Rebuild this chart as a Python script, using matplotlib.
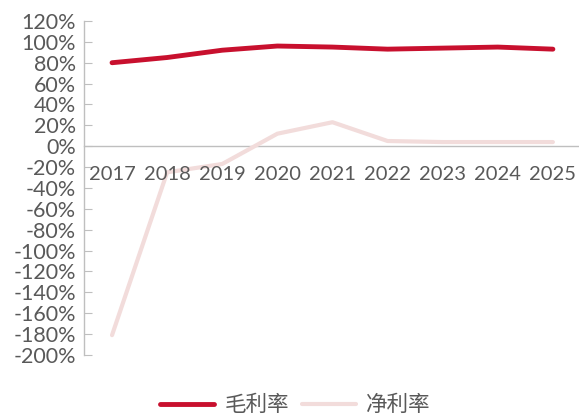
import matplotlib
matplotlib.use("Agg")
import matplotlib.pyplot as plt
from matplotlib.ticker import FuncFormatter, MultipleLocator

years = ["2017", "2018", "2019", "2020", "2021", "2022", "2023", "2024", "2025"]
gross_margin = [0.80, 0.85, 0.92, 0.96, 0.95, 0.93, 0.94, 0.95, 0.93]
net_margin = [-1.81, -0.25, -0.17, 0.12, 0.23, 0.05, 0.04, 0.04, 0.04]
series_names = ["毛利率", "净利率"]

plt.rcParams['font.family'] = ['Lato', 'Noto Sans CJK SC', 'DejaVu Sans']
grey = "#595959"
axis_grey = "#BFBFBF"

fig = plt.figure(figsize=(5.79, 4.17), dpi=100)
ax = fig.add_axes([0.1459, 0.1487, 0.8566, 0.801])

x = list(range(len(years)))
ax.plot(x, gross_margin, color="#C8102E", lw=3.5, solid_capstyle="round", label=series_names[0], zorder=2)
ax.plot(x, net_margin, color="#F2DCDB", lw=3.0, solid_capstyle="round", label=series_names[1], zorder=1)

ax.set_xlim(-0.5, 8.5)
ax.set_ylim(-2.0, 1.2)
ax.yaxis.set_major_locator(MultipleLocator(0.2))
ax.yaxis.set_major_formatter(FuncFormatter(lambda v, p: f"{round(v*100):d}%"))

for s in ["top", "right"]:
    ax.spines[s].set_visible(False)
ax.spines["left"].set_color(axis_grey)
ax.spines["left"].set_linewidth(1.0)
ax.spines["bottom"].set_position(("data", 0))
ax.spines["bottom"].set_color(axis_grey)
ax.spines["bottom"].set_linewidth(1.0)
ax.spines["bottom"].set_zorder(0.5)

ax.set_xticks(x)
ax.set_xticklabels(years)
ax.tick_params(axis="x", length=0, pad=14, labelsize=14.5, labelcolor=grey)
ax.tick_params(axis="y", direction="in", length=6, color=axis_grey, labelsize=15.5,
               labelcolor=grey, pad=6)
ax.xaxis.set_zorder(3)

leg = fig.legend(loc="lower center", bbox_to_anchor=(0.51, -0.045), ncol=2, frameon=False,
                 prop={'family': ['Noto Sans CJK SC', 'DejaVu Sans'], 'size': 15.5},
                 handlelength=2.5, columnspacing=0.6, handletextpad=0.5)
for t in leg.get_texts():
    t.set_color(grey)

fig.savefig("out.png", dpi=100)
